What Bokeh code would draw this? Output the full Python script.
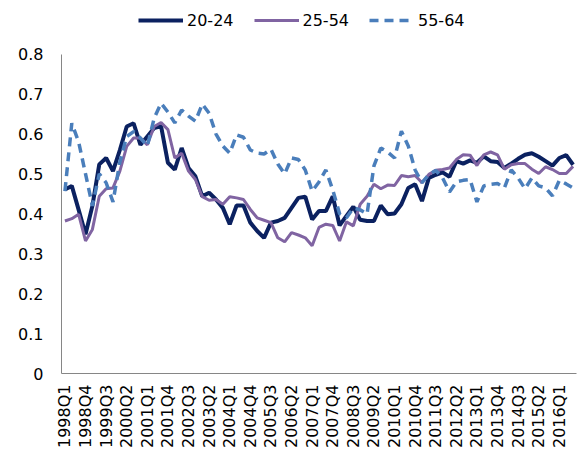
import math

from bokeh.embed import file_html
from bokeh.models import FixedTicker, Legend, LegendItem, Range1d
from bokeh.plotting import figure
from bokeh.resources import INLINE

# Quarterly labels, 1998Q1 .. 2016Q3
quarters = [f"{y}Q{q}" for y in range(1998, 2017) for q in range(1, 5)][:75]

age_20_24 = [
    0.461, 0.470, 0.410, 0.349, 0.420, 0.524, 0.540, 0.507, 0.560, 0.619,
    0.627, 0.573, 0.594, 0.615, 0.620, 0.528, 0.511, 0.565, 0.515, 0.494,
    0.444, 0.453, 0.436, 0.415, 0.374, 0.421, 0.421, 0.378, 0.357, 0.340,
    0.378, 0.382, 0.390, 0.415, 0.440, 0.443, 0.386, 0.407, 0.407, 0.444,
    0.371, 0.395, 0.418, 0.385, 0.382, 0.382, 0.421, 0.399, 0.401, 0.424,
    0.465, 0.474, 0.432, 0.490, 0.498, 0.504, 0.493, 0.532, 0.526, 0.534,
    0.528, 0.544, 0.532, 0.530, 0.515, 0.526, 0.538, 0.548, 0.552, 0.543,
    0.532, 0.521, 0.540, 0.547, 0.523,
]

age_25_54 = [
    0.382, 0.388, 0.399, 0.332, 0.361, 0.444, 0.463, 0.465, 0.507, 0.569,
    0.590, 0.590, 0.573, 0.619, 0.629, 0.611, 0.540, 0.552, 0.507, 0.486,
    0.443, 0.434, 0.436, 0.424, 0.443, 0.440, 0.436, 0.411, 0.390, 0.384,
    0.378, 0.340, 0.330, 0.353, 0.347, 0.340, 0.320, 0.366, 0.374, 0.371,
    0.332, 0.380, 0.370, 0.424, 0.444, 0.474, 0.463, 0.472, 0.471, 0.496,
    0.493, 0.496, 0.478, 0.499, 0.509, 0.511, 0.515, 0.536, 0.548, 0.547,
    0.521, 0.548, 0.555, 0.548, 0.512, 0.523, 0.526, 0.526, 0.512, 0.501,
    0.518, 0.511, 0.501, 0.501, 0.519,
]

age_55_64 = [
    0.457, 0.627, 0.580, 0.500, 0.420, 0.500, 0.478, 0.430, 0.530, 0.594,
    0.606, 0.590, 0.570, 0.640, 0.677, 0.655, 0.628, 0.660, 0.645, 0.632,
    0.675, 0.652, 0.600, 0.570, 0.552, 0.598, 0.592, 0.560, 0.552, 0.550,
    0.562, 0.525, 0.500, 0.540, 0.536, 0.510, 0.457, 0.480, 0.510, 0.460,
    0.400, 0.390, 0.415, 0.410, 0.400, 0.520, 0.565, 0.555, 0.540, 0.607,
    0.570, 0.510, 0.478, 0.498, 0.509, 0.490, 0.455, 0.480, 0.484, 0.486,
    0.430, 0.470, 0.474, 0.476, 0.465, 0.510, 0.490, 0.463, 0.490, 0.470,
    0.465, 0.445, 0.484, 0.475, 0.465,
]

series_names = ["20-24", "25-54", "55-64"]
y_ticks = [0, 0.1, 0.2, 0.3, 0.4, 0.5, 0.6, 0.7, 0.8]
y_tick_labels = ["0", "0.1", "0.2", "0.3", "0.4", "0.5", "0.6", "0.7", "0.8"]

FONT = "DejaVu Sans"
x = list(range(len(quarters)))

# The frame runs to the top of the canvas so the legend can sit inside it,
# above the 0.8 line; the value axis itself stops at 0.8.
FRAME_H = 375
Y_TOP = 0.8 * FRAME_H / 321

p = figure(
    width=585, height=450,
    output_backend="svg", toolbar_location=None,
    x_range=Range1d(-0.5, len(quarters) - 0.5),
    y_range=Range1d(0, Y_TOP),
    min_border_left=61, min_border_right=9,
    min_border_top=0, min_border_bottom=75,
)
p.outline_line_color = None
p.background_fill_color = "white"
p.border_fill_color = "white"
p.xgrid.visible = False
p.ygrid.visible = False

r1 = p.line(x, age_20_24, line_color="#0B2160", line_width=4)
r2 = p.line(x, age_25_54, line_color="#8064A2", line_width=3)
r3 = p.line(x, age_55_64, line_color="#4A7EBB", line_width=3.5,
            line_dash="9 6")

# Axes
p.xaxis.ticker = FixedTicker(ticks=list(range(0, len(quarters), 3)))
p.xaxis.major_label_overrides = {i: quarters[i] for i in range(0, len(quarters), 3)}
p.xaxis.major_label_orientation = math.pi / 2
p.yaxis.ticker = FixedTicker(ticks=y_ticks)
p.yaxis.major_label_overrides = dict(zip(y_ticks, y_tick_labels))
p.yaxis.bounds = (0, 0.8)

for ax in (p.xaxis[0], p.yaxis[0]):
    ax.axis_line_color = "#868686"
    ax.axis_line_width = 1
    ax.major_tick_line_color = None
    ax.minor_tick_line_color = None
    ax.major_label_text_font = FONT
    ax.major_label_text_font_size = "16px"
    ax.major_label_text_color = "#000000"

p.yaxis.major_label_standoff = 12
p.xaxis.major_label_standoff = 5

# Horizontal legend across the top
legend = Legend(
    items=[
        LegendItem(label=series_names[0], renderers=[r1]),
        LegendItem(label=series_names[1], renderers=[r2]),
        LegendItem(label=series_names[2], renderers=[r3]),
    ],
    orientation="horizontal",
    location=(77, 343),
    padding=2, margin=0, spacing=20,
    glyph_width=45, glyph_height=20, label_standoff=4,
    label_text_font=FONT, label_text_font_size="16px",
    label_text_color="#000000",
    border_line_color=None, background_fill_alpha=0,
)
p.add_layout(legend, "center")

open("out.html", "w").write(file_html(p, INLINE))
